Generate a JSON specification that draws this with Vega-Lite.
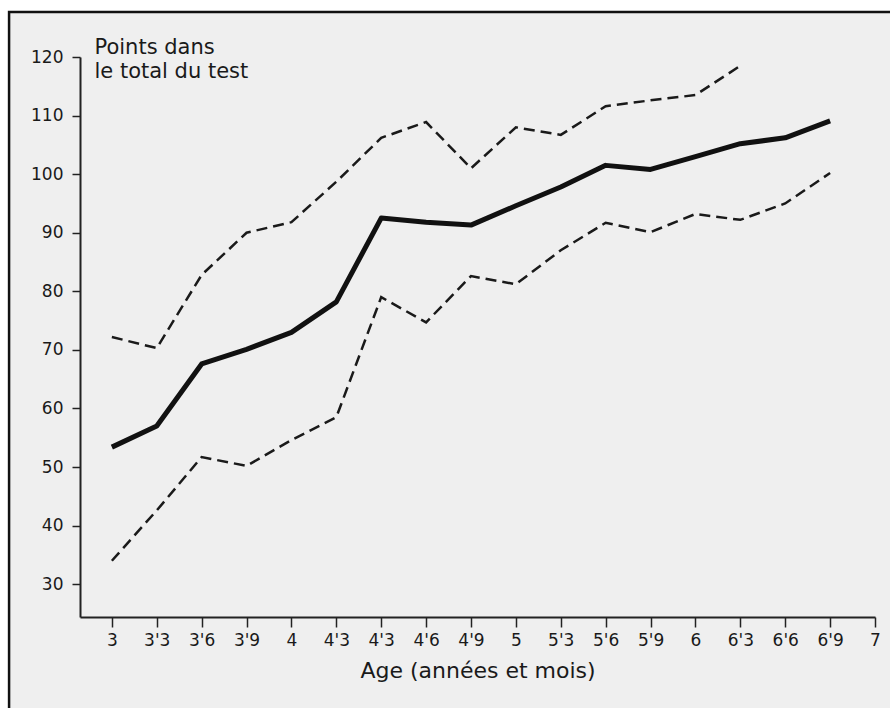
{
  "$schema": "https://vega.github.io/schema/vega-lite/v6.json",
  "width": 795,
  "height": 560,
  "autosize": {"type": "none"},
  "padding": {"left": 80, "top": 57, "right": 15, "bottom": 91},
  "background": "#ffffff",
  "config": {"view": {"stroke": null}, "font": "DejaVu Sans"},
  "datasets": {
    "scores": [
      {"i": 0, "s": "moyenne", "v": 53.4}, {"i": 1, "s": "moyenne", "v": 57}, {"i": 2, "s": "moyenne", "v": 67.6}, {"i": 3, "s": "moyenne", "v": 70.1}, {"i": 4, "s": "moyenne", "v": 73}, {"i": 5, "s": "moyenne", "v": 78.2}, {"i": 6, "s": "moyenne", "v": 92.5}, {"i": 7, "s": "moyenne", "v": 91.8}, {"i": 8, "s": "moyenne", "v": 91.3}, {"i": 9, "s": "moyenne", "v": 94.6}, {"i": 10, "s": "moyenne", "v": 97.8}, {"i": 11, "s": "moyenne", "v": 101.5}, {"i": 12, "s": "moyenne", "v": 100.8}, {"i": 13, "s": "moyenne", "v": 103}, {"i": 14, "s": "moyenne", "v": 105.2}, {"i": 15, "s": "moyenne", "v": 106.2}, {"i": 16, "s": "moyenne", "v": 109.1},
      {"i": 0, "s": "haut", "v": 72.2}, {"i": 1, "s": "haut", "v": 70.3}, {"i": 2, "s": "haut", "v": 82.8}, {"i": 3, "s": "haut", "v": 90}, {"i": 4, "s": "haut", "v": 91.8}, {"i": 5, "s": "haut", "v": 98.7}, {"i": 6, "s": "haut", "v": 106.2}, {"i": 7, "s": "haut", "v": 108.9}, {"i": 8, "s": "haut", "v": 101}, {"i": 9, "s": "haut", "v": 108}, {"i": 10, "s": "haut", "v": 106.7}, {"i": 11, "s": "haut", "v": 111.6}, {"i": 12, "s": "haut", "v": 112.6}, {"i": 13, "s": "haut", "v": 113.5}, {"i": 14, "s": "haut", "v": 118.5},
      {"i": 0, "s": "bas", "v": 34}, {"i": 1, "s": "bas", "v": 42.6}, {"i": 2, "s": "bas", "v": 51.7}, {"i": 3, "s": "bas", "v": 50.2}, {"i": 4, "s": "bas", "v": 54.6}, {"i": 5, "s": "bas", "v": 58.5}, {"i": 6, "s": "bas", "v": 79}, {"i": 7, "s": "bas", "v": 74.7}, {"i": 8, "s": "bas", "v": 82.6}, {"i": 9, "s": "bas", "v": 81.2}, {"i": 10, "s": "bas", "v": 87}, {"i": 11, "s": "bas", "v": 91.7}, {"i": 12, "s": "bas", "v": 90.1}, {"i": 13, "s": "bas", "v": 93.2}, {"i": 14, "s": "bas", "v": 92.2}, {"i": 15, "s": "bas", "v": 95}, {"i": 16, "s": "bas", "v": 100.2}
    ]
  },
  "layer": [
    {
      "data": {"values": [{}]},
      "mark": {"type": "rect", "fill": "#efefef", "stroke": "#111111", "strokeWidth": 2.5, "clip": false},
      "encoding": {
        "x": {"datum": -2.29, "type": "quantitative", "scale": {"domain": [-0.71, 17], "nice": false, "zero": false},
          "axis": {"title": "Age (années et mois)", "titleFontSize": 22, "titleFontWeight": "normal", "titleColor": "#1a1a1a", "titlePadding": 12,
            "values": [0, 1, 2, 3, 4, 5, 6, 7, 8, 9, 10, 11, 12, 13, 14, 15, 16, 17],
            "labelExpr": "[\"3\",\"3'3\",\"3'6\",\"3'9\",\"4\",\"4'3\",\"4'3\",\"4'6\",\"4'9\",\"5\",\"5'3\",\"5'6\",\"5'9\",\"6\",\"6'3\",\"6'6\",\"6'9\",\"7\"][datum.value]",
            "labelFontSize": 17, "labelColor": "#1a1a1a", "labelPadding": 5, "labelFlush": false, "labelOverlap": false,
            "tickSize": 10, "tickWidth": 1.5, "tickColor": "#222222", "domainColor": "#222222", "domainWidth": 2, "grid": false, "zindex": 1}},
        "x2": {"datum": 18},
        "y": {"datum": 0, "type": "quantitative", "scale": {"domain": [24.4, 120], "nice": false, "zero": false},
          "axis": {"title": ["Points dans", "le total du test"], "titleAngle": 0, "titleAlign": "left", "titleBaseline": "alphabetic", "titleX": 14, "titleY": -4,
            "titleFontSize": 21, "titleFontWeight": "normal", "titleLineHeight": 24, "titleColor": "#1a1a1a",
            "values": [30, 40, 50, 60, 70, 80, 90, 100, 110, 120],
            "labelFontSize": 17, "labelColor": "#1a1a1a", "labelPadding": 9,
            "tickSize": 8, "tickWidth": 1.5, "tickColor": "#222222", "domainColor": "#222222", "domainWidth": 2, "grid": false, "zindex": 1}},
        "y2": {"datum": 127.7}
      }
    },
    {
      "data": {"name": "scores"},
      "transform": [{"filter": "datum.s === 'haut'"}],
      "mark": {"type": "line", "stroke": "#1a1a1a", "strokeWidth": 2.5, "strokeDash": [11, 6]},
      "encoding": {
        "x": {"field": "i", "type": "quantitative"},
        "y": {"field": "v", "type": "quantitative"}
      }
    },
    {
      "data": {"name": "scores"},
      "transform": [{"filter": "datum.s === 'bas'"}],
      "mark": {"type": "line", "stroke": "#1a1a1a", "strokeWidth": 2.5, "strokeDash": [11, 6]},
      "encoding": {
        "x": {"field": "i", "type": "quantitative"},
        "y": {"field": "v", "type": "quantitative"}
      }
    },
    {
      "data": {"name": "scores"},
      "transform": [{"filter": "datum.s === 'moyenne'"}],
      "mark": {"type": "line", "stroke": "#111111", "strokeWidth": 5, "strokeJoin": "round"},
      "encoding": {
        "x": {"field": "i", "type": "quantitative"},
        "y": {"field": "v", "type": "quantitative"}
      }
    }
  ]
}
